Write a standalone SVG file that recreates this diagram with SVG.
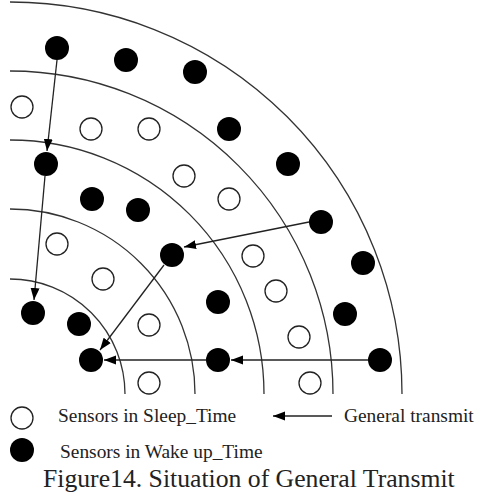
<svg xmlns="http://www.w3.org/2000/svg" width="477" height="496" viewBox="0 0 477 496">
<style>
.arc{fill:none;stroke:#333;stroke-width:1.3}
.on{fill:#000}
.off{fill:#fff;stroke:#222;stroke-width:1.3}
.con{stroke:#222;stroke-width:1.3;fill:none;marker-end:url(#ah)}
text{font-family:"Liberation Serif","Times New Roman",serif;fill:#222}
</style>
<defs>
<marker id="ah" markerUnits="userSpaceOnUse" markerWidth="13" markerHeight="10" refX="12" refY="4.5" orient="auto">
<path d="M0,0 L12,4.5 L0,9 z" fill="#000"/>
</marker>
</defs>
<rect width="477" height="496" fill="#fff"/>
<g id="rings">
<path class="arc" d="M10,2 A392,392 0 0,1 402,394"/>
<path class="arc" d="M10,71 A323,323 0 0,1 333,394"/>
<path class="arc" d="M10,140 A254,254 0 0,1 264,394"/>
<path class="arc" d="M10,209 A185,185 0 0,1 195,394"/>
<path class="arc" d="M10,279 A115,115 0 0,1 125,394"/>
</g>
<g id="connectors">
<path class="con" d="M57,60 L47,151"/>
<path class="con" d="M45,176 L34,300"/>
<path class="con" d="M309,222 L184,247"/>
<path class="con" d="M164,265 L100,350"/>
<path class="con" d="M368,360 L231,360"/>
<path class="con" d="M206,360 L104,360"/>
</g>
<g id="sensors-wake">
<circle class="on" cx="57" cy="48" r="12"/>
<circle class="on" cx="126" cy="60" r="12"/>
<circle class="on" cx="195" cy="72" r="12"/>
<circle class="on" cx="229" cy="129" r="12"/>
<circle class="on" cx="288" cy="164" r="12"/>
<circle class="on" cx="321" cy="222" r="12"/>
<circle class="on" cx="46" cy="164" r="12"/>
<circle class="on" cx="92" cy="199" r="12"/>
<circle class="on" cx="138" cy="210" r="12"/>
<circle class="on" cx="172" cy="255" r="12"/>
<circle class="on" cx="33" cy="313" r="12"/>
<circle class="on" cx="79" cy="324" r="12"/>
<circle class="on" cx="91" cy="360" r="12"/>
<circle class="on" cx="218" cy="302" r="12"/>
<circle class="on" cx="218" cy="360" r="12"/>
<circle class="on" cx="363" cy="263" r="12"/>
<circle class="on" cx="345" cy="314" r="12"/>
<circle class="on" cx="380" cy="360" r="12"/>
</g>
<g id="sensors-sleep">
<circle class="off" cx="22" cy="107" r="11"/>
<circle class="off" cx="91" cy="129" r="11"/>
<circle class="off" cx="149" cy="129" r="11"/>
<circle class="off" cx="184" cy="176" r="11"/>
<circle class="off" cx="229" cy="199" r="11"/>
<circle class="off" cx="57" cy="244" r="11"/>
<circle class="off" cx="103" cy="279" r="11"/>
<circle class="off" cx="149" cy="325" r="11"/>
<circle class="off" cx="149" cy="383" r="11"/>
<circle class="off" cx="253" cy="256" r="11"/>
<circle class="off" cx="276" cy="291" r="11"/>
<circle class="off" cx="299" cy="337" r="11"/>
<circle class="off" cx="310" cy="383" r="11"/>
</g>
<g id="legend">
<circle class="off" cx="22" cy="418" r="11"/>
<text x="58" y="422" font-size="19.4">Sensors in Sleep_Time</text>
<circle class="on" cx="22" cy="450" r="12"/>
<text x="60" y="458" font-size="19.4">Sensors in Wake up_Time</text>
<path class="con" d="M332,416 L273,416"/>
<text x="344" y="422" font-size="19.4">General transmit</text>
</g>
<text id="caption" x="43" y="487" font-size="25.7" fill="#000">Figure14. Situation of General Transmit</text>
</svg>
